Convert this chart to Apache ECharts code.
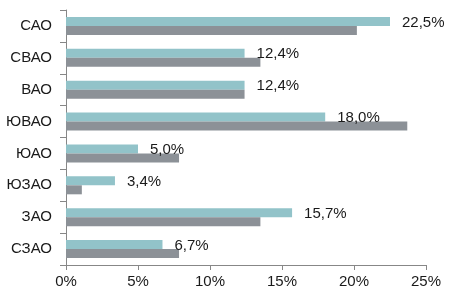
<!DOCTYPE html>
<html><head><meta charset="utf-8">
<script src="https://cdn.jsdelivr.net/npm/echarts@6/dist/echarts.min.js"></script>
<style>html,body{margin:0;padding:0;background:#fff}#c{width:472px;height:295px}</style>
</head><body><div id="c"></div>
<script>
var categories = ['САО','СВАО','ВАО','ЮВАО','ЮАО','ЮЗАО','ЗАО','СЗАО'];
var seriesA = [22.5, 12.4, 12.4, 18.0, 5.0, 3.4, 15.7, 6.7];
var seriesB = [20.2, 13.5, 12.4, 23.7, 7.85, 1.1, 13.5, 7.85];
var xTicks = [0, 5, 10, 15, 20, 25];

var chart = echarts.init(document.getElementById('c'), null, {renderer:'canvas'});
var font = 'Liberation Sans, Arial, sans-serif';
chart.setOption({
  animation: false,
  grid: {left: 66, right: 46, top: 10, bottom: 30},
  xAxis: {
    type: 'value', min: xTicks[0], max: xTicks[xTicks.length-1], interval: 5,
    splitLine: {show: false},
    axisLine: {show: true, lineStyle: {color: '#878787', width: 1}},
    axisTick: {show: true, length: 5, lineStyle: {color: '#878787'}},
    axisLabel: {margin: 9, fontSize: 15, fontFamily: font, color: '#1a1a1a', formatter: function(v){return v + '%';}}
  },
  yAxis: {
    type: 'category', data: categories, inverse: true,
    axisLine: {show: true, lineStyle: {color: '#878787', width: 1}},
    axisTick: {show: true, length: 6, lineStyle: {color: '#878787'}},
    axisLabel: {margin: 14, fontSize: 15, fontFamily: font, color: '#1a1a1a'}
  },
  series: [
    {type: 'bar', data: seriesA, barWidth: 9, barGap: '0%',
     itemStyle: {color: '#92c3c9'},
     label: {show: true, position: 'right', distance: 12, offset: [0, 1], fontSize: 15, fontFamily: font, color: '#1a1a1a',
       formatter: function(p){return p.value.toFixed(1).replace('.', ',') + '%';}}},
    {type: 'bar', data: seriesB, barWidth: 9, barGap: '0%',
     itemStyle: {color: '#8c9197'}}
  ]
});
</script></body></html>
